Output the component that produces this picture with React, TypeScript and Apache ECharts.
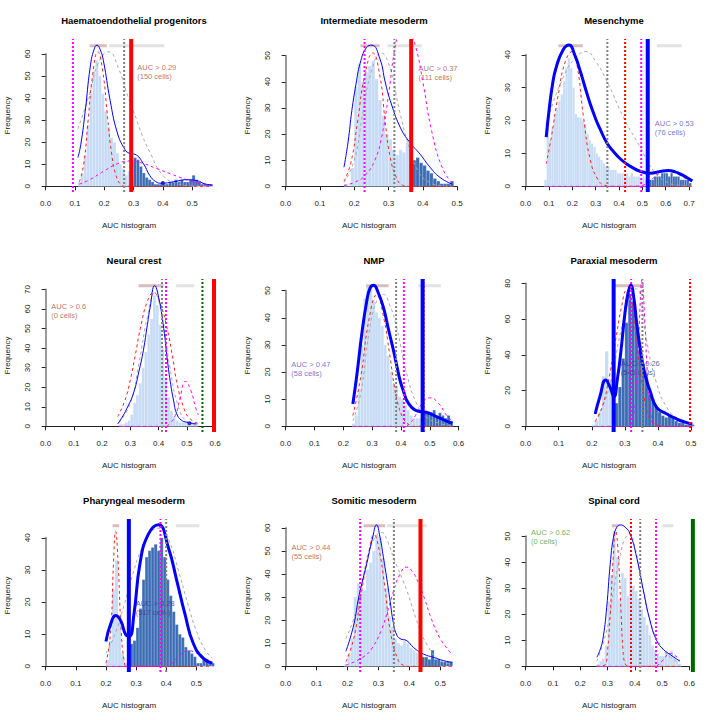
import { useEffect, useRef } from 'react';
import * as echarts from 'echarts';

// ---- panel-level values ----
const titles = [
  'Haematoendothelial progenitors', 'Intermediate mesoderm', 'Mesenchyme',
  'Neural crest', 'NMP', 'Paraxial mesoderm',
  'Pharyngeal mesoderm', 'Somitic mesoderm', 'Spinal cord',
];
const xMaxes = [0.569, 0.486, 0.714, 0.59, 0.578, 0.504, 0.553, 0.539, 0.611];
const yMaxes = [64.2, 54.2, 43.1, 72.5, 52.2, 79.3, 44.1, 61.4, 54.5];
const xLastTicks = [0.5, 0.5, 0.7, 0.6, 0.6, 0.5, 0.5, 0.5, 0.6];
const yLastTicks = [60, 50, 40, 70, 50, 80, 40, 60, 50];
const yTickSteps = [10, 10, 10, 10, 10, 20, 10, 10, 10];

const thresholdX = [0.292, 0.366, 0.523, 0.596, 0.475, 0.266, 0.276, 0.436, 0.613];
const thresholdColor = ['#ff0000', '#ff0000', '#0000ff', '#ff0000', '#0000ff', '#0000ff', '#0000ff', '#ff0000', '#006400'];
const densityWidth = [1, 1, 3, 1, 3, 3, 3, 1, 1];

const greyDotX = [0.268, 0.317, 0.35, 0.412, 0.383, 0.353, 0.4, 0.35, 0.42];
const redDotX = [null, null, 0.426, null, 0.478, 0.497, null, null, 0.386];
const magentaDotX = [0.093, 0.23, 0.495, 0.426, 0.41, 0.319, 0.381, 0.241, 0.478];
const greenDotX = [null, null, null, 0.555, null, null, null, null, null];

const rosyBars = [[0.15, 0.209], [0.218, 0.274], [0.14, 0.245], [0.329, 0.417], [0.279, 0.357], [0.269, 0.354], [0.222, 0.244], [0.252, 0.322], [0.316, 0.34]];
const greyBars = [[0.217, 0.405], [0.297, 0.397], [0.562, 0.669], [0.462, 0.526], [0.461, 0.538], null, [0.432, 0.51], [0.327, 0.456], [0.502, 0.542]];

const minDots = [[0.4, 1.5], null, null, [0.509, 1.6], null, null, null, null, null];

const labelTexts = [
  'AUC > 0.29\n(150 cells)', 'AUC > 0.37\n(111 cells)', 'AUC > 0.53\n(76 cells)',
  'AUC > 0.6\n(0 cells)', 'AUC > 0.47\n(58 cells)', 'AUC > 0.26\n(545 cells)',
  'AUC > 0.28\n(517 cells)', 'AUC > 0.44\n(55 cells)', 'AUC > 0.62\n(0 cells)',
];
const labelPos = [[0.311, 52], [0.386, 43.5], [0.551, 17.6], [0.018, 59], [0.018, 21.3], [0.286, 32.4], [0.297, 18.2], [0.017, 49.7], [0.018, 49.7]];
const labelColor = ['#a6503e', '#a6503e', '#5550c0', '#a6503e', '#5550c0', '#3c3690', '#3c3690', '#a6503e', '#4e9a34'];

// ---- histograms (bin width 0.01, first bin left edge) ----
const binWidth = 0.01;
const histStarts = [0.11, 0.17, 0.08, 0.26, 0.23, 0.2, 0.2, 0.19, 0.26];
const haemCounts = [2, 6, 14, 28, 42, 52, 57, 50, 42, 34, 27, 22, 20, 15, 10, 8, 5, 7, 11, 13, 12, 9, 6, 4, 3, 2, 1, 1, 1, 1, 1, 2, 2, 3, 2, 3, 2, 2, 3, 5, 3, 2, 1, 1, 1, 1];
const interCounts = [1, 0, 7, 38, 47, 40, 44, 46, 48, 41, 33, 27, 20, 18, 14, 12, 14, 13, 17, 14, 10, 11, 9, 8, 6, 5, 3, 2, 1, 1, 1, 2];
const mesenCounts = [2, 18, 14, 18, 22, 24, 26, 28, 32, 36, 39, 36, 30, 22, 21, 21, 20, 19, 16, 14, 13, 12, 10, 9, 8, 7, 6, 6, 5, 5, 5, 4, 4, 4, 3, 4, 3, 4, 3, 3, 3, 2, 3, 2, 2, 2, 2, 3, 3, 3, 4, 4, 4, 3, 4, 3, 3, 3, 2, 2, 2, 2, 1];
const neuralCounts = [1, 1, 2, 3, 6, 12, 16, 22, 30, 38, 47, 55, 67, 62, 52, 40, 25, 15, 8, 5, 3, 2, 2, 2, 2, 2, 2, 1];
const nmpCounts = [1, 4, 14, 30, 47, 52, 51, 46, 42, 40, 37, 30, 26, 20, 16, 15, 11, 10, 8, 6, 4, 3, 3, 3, 4, 5, 5, 5, 6, 4, 5, 4, 3, 4, 2];
const paraxCounts = [1, 3, 8, 28, 42, 26, 11, 13, 22, 38, 58, 74, 70, 58, 43, 35, 28, 18, 15, 11, 8, 6, 5, 6, 5, 3, 2, 2, 1, 1, 1];
const pharCounts = [2, 8, 24, 33, 14, 4, 1, 0, 7, 8, 12, 18, 27, 34, 36, 37, 38, 36, 40, 34, 27, 22, 17, 13, 10, 9, 6, 5, 4, 3, 1, 1, 2, 2, 1, 1];
const somitCounts = [1, 5, 12, 30, 36, 33, 33, 42, 45, 50, 57, 56, 47, 34, 22, 17, 12, 10, 9, 11, 10, 8, 7, 6, 5, 4, 4, 3, 7, 3, 3, 2, 2, 2, 2];
const spinalCounts = [1, 2, 3, 8, 25, 35, 52, 42, 26, 36, 34, 27, 38, 31, 29, 26, 22, 19, 16, 12, 8, 6, 5, 4, 4, 6, 5, 6, 4, 2, 1];

// ---- curves [AUC, frequency] ----
const haemDensity = [[0.11, 13], [0.12, 19], [0.135, 34], [0.152, 54], [0.165, 62], [0.175, 64], [0.186, 62], [0.197, 57], [0.22, 39], [0.243, 25], [0.266, 17.7], [0.285, 15], [0.305, 14.5], [0.334, 10.2], [0.355, 5], [0.375, 2.2], [0.395, 1.4], [0.437, 2.1], [0.482, 3], [0.516, 2.6], [0.544, 1.1], [0.569, 0.6]];
const haemRed = [[0.115, 2], [0.13, 10], [0.145, 30], [0.16, 50], [0.178, 61], [0.195, 52], [0.21, 33], [0.225, 15], [0.24, 5], [0.255, 1], [0.27, 0], [0.4, 0], [0.569, 0]];
const haemGrey = [[0.11, 26], [0.15, 42], [0.18, 56], [0.214, 61], [0.25, 53], [0.28, 41], [0.3, 34], [0.33, 23], [0.354, 16], [0.4, 5], [0.45, 1.2], [0.5, 0.2], [0.569, 0]];
const haemMagenta = [[0.115, 1], [0.15, 3], [0.2, 7], [0.25, 10.5], [0.29, 11.5], [0.33, 10.5], [0.38, 8], [0.43, 5.5], [0.48, 3], [0.52, 1.5], [0.569, 0.5]];

const interDensity = [[0.17, 7.3], [0.182, 17], [0.193, 29], [0.205, 39], [0.217, 47], [0.235, 53], [0.251, 54], [0.275, 48.7], [0.29, 40], [0.305, 32.8], [0.334, 22.6], [0.362, 16.8], [0.392, 12.3], [0.421, 7.3], [0.45, 3.4], [0.486, 0.8]];
const interRed = [[0.17, 2], [0.19, 9], [0.21, 25], [0.23, 42], [0.254, 51], [0.275, 42], [0.29, 25], [0.305, 11], [0.324, 3], [0.34, 0.5], [0.36, 0], [0.42, 0], [0.486, 0]];
const interGrey = [[0.17, 1.5], [0.2, 10], [0.225, 28], [0.25, 44], [0.278, 51], [0.305, 45], [0.33, 30], [0.36, 15], [0.39, 5], [0.42, 1.5], [0.45, 0.3], [0.486, 0]];
const interMagenta = [[0.17, 0.3], [0.2, 1.5], [0.23, 4], [0.26, 10], [0.28, 19], [0.3, 35], [0.315, 50], [0.33, 59], [0.345, 62], [0.36, 60], [0.38, 53], [0.4, 40], [0.426, 21], [0.457, 7], [0.486, 1.2]];

const mesenDensity = [[0.088, 15], [0.1, 23], [0.115, 31], [0.13, 36], [0.16, 41.5], [0.186, 43], [0.21, 40], [0.234, 35], [0.255, 30], [0.277, 25], [0.3, 20.5], [0.319, 17.4], [0.348, 13.2], [0.376, 10.6], [0.405, 8.4], [0.433, 6.8], [0.46, 5.6], [0.49, 4.6], [0.533, 4], [0.576, 4.5], [0.612, 4.8], [0.64, 4.4], [0.661, 3.8], [0.69, 2.7], [0.714, 1.6]];
const mesenRed = [[0.088, 6.8], [0.11, 15], [0.14, 28], [0.17, 38], [0.2, 41], [0.22, 37], [0.248, 21], [0.277, 8], [0.31, 2], [0.34, 0.3], [0.37, 0], [0.5, 0], [0.714, 0]];
const mesenGrey = [[0.088, 19], [0.12, 26], [0.16, 33], [0.2, 38], [0.259, 41], [0.3, 38], [0.348, 32], [0.419, 21], [0.49, 12], [0.547, 4.8], [0.605, 1.3], [0.66, 0.3], [0.714, 0]];
const mesenMagenta = [[0.088, 0], [0.3, 0], [0.45, 0], [0.5, 0.3], [0.53, 1.5], [0.56, 3.3], [0.6, 4.8], [0.63, 4.6], [0.66, 3.4], [0.69, 2.2], [0.714, 1.3]];

const neuralDensity = [[0.255, 1.2], [0.27, 4.5], [0.287, 9], [0.311, 17], [0.33, 28], [0.346, 39], [0.36, 52], [0.37, 61], [0.386, 72], [0.4, 66], [0.418, 50], [0.43, 35], [0.441, 23], [0.453, 13], [0.464, 6.4], [0.48, 3.2], [0.5, 2.1], [0.535, 1.2]];
const neuralRed = [[0.255, 5], [0.28, 13], [0.3, 24], [0.318, 37], [0.335, 50], [0.36, 64], [0.382, 68.5], [0.405, 63], [0.43, 50], [0.45, 35], [0.465, 22], [0.49, 9], [0.51, 4], [0.54, 1.5]];
const neuralGrey = [[0.26, 2], [0.3, 12], [0.33, 32], [0.36, 56], [0.385, 68], [0.41, 58], [0.44, 30], [0.47, 10], [0.5, 2.5], [0.54, 0.5]];
const neuralMagenta = [[0.26, 0], [0.35, 0], [0.42, 0], [0.44, 1.5], [0.46, 6], [0.475, 14], [0.495, 23], [0.515, 18], [0.53, 10], [0.54, 6]];

const nmpDensity = [[0.233, 8.2], [0.247, 19], [0.264, 34], [0.281, 46], [0.293, 51], [0.305, 52], [0.32, 49.5], [0.339, 43.8], [0.357, 35.5], [0.374, 27.9], [0.386, 22], [0.397, 16.8], [0.41, 12.5], [0.42, 9.5], [0.437, 7], [0.455, 5.7], [0.49, 5.1], [0.524, 3.5], [0.55, 2.3], [0.578, 1.1]];
const nmpRed = [[0.233, 4], [0.26, 18], [0.29, 40], [0.316, 48.5], [0.34, 40], [0.36, 27], [0.375, 16], [0.39, 8], [0.41, 2.5], [0.43, 0.5], [0.45, 0], [0.5, 0], [0.578, 0]];
const nmpGrey = [[0.233, 2], [0.26, 12], [0.29, 35], [0.315, 46], [0.339, 48.6], [0.36, 45], [0.385, 36.4], [0.42, 19.3], [0.455, 8.2], [0.49, 3.3], [0.536, 1], [0.578, 0.3]];
const nmpMagenta = [[0.233, 0], [0.33, 0], [0.41, 0], [0.43, 1], [0.45, 4], [0.47, 8], [0.5, 10.5], [0.53, 8.5], [0.555, 4.5], [0.578, 2]];

const paraxDensity = [[0.21, 6.9], [0.225, 17], [0.242, 26], [0.255, 22], [0.267, 16.6], [0.277, 26], [0.288, 42], [0.3, 63], [0.31, 75], [0.318, 79], [0.327, 72], [0.336, 57.3], [0.346, 44], [0.356, 33], [0.366, 25.5], [0.376, 19.9], [0.396, 10.6], [0.427, 6.9], [0.457, 4.1], [0.48, 2.5], [0.504, 1.3]];
const paraxRed = [[0.21, 2.5], [0.23, 10], [0.25, 25], [0.27, 46], [0.29, 67], [0.305, 76], [0.32, 70], [0.335, 48], [0.35, 26], [0.365, 10], [0.38, 3], [0.4, 0.5], [0.42, 0], [0.46, 0], [0.504, 0]];
const paraxGrey = [[0.21, 3], [0.25, 20], [0.29, 55], [0.32, 74], [0.335, 77], [0.35, 70], [0.366, 48], [0.396, 24], [0.427, 10.6], [0.467, 3], [0.504, 0.6]];
const paraxMagenta = [[0.21, 0], [0.26, 0], [0.31, 0], [0.325, 5], [0.335, 25], [0.343, 55], [0.352, 82], [0.36, 60], [0.368, 30], [0.378, 8], [0.39, 1], [0.4, 0], [0.45, 0], [0.504, 0]];

const pharDensity = [[0.2, 7.7], [0.215, 13], [0.233, 15.8], [0.25, 14], [0.265, 10], [0.278, 9.4], [0.293, 16.3], [0.313, 32], [0.34, 41], [0.374, 44.1], [0.407, 37], [0.435, 26.7], [0.462, 16.3], [0.49, 7.1], [0.524, 2.4], [0.553, 1]];
const pharRed = [[0.2, 1], [0.215, 10], [0.225, 32], [0.232, 42], [0.24, 33], [0.25, 12], [0.26, 2], [0.27, 0], [0.4, 0], [0.553, 0]];
const pharGrey = [[0.2, 4], [0.23, 10], [0.26, 19], [0.29, 29], [0.32, 37], [0.35, 42], [0.38, 43], [0.41, 39], [0.44, 30], [0.47, 20], [0.5, 11], [0.53, 5], [0.553, 2.5]];
const pharMagenta = [[0.2, 0], [0.3, 0], [0.4, 0], [0.42, 1], [0.44, 3], [0.475, 4.8], [0.5, 4.2], [0.525, 2.8], [0.553, 1.2]];

const somitDensity = [[0.195, 6.5], [0.22, 17.9], [0.237, 30.4], [0.262, 44.4], [0.28, 55], [0.294, 61.3], [0.305, 56], [0.316, 47.3], [0.327, 38], [0.338, 28], [0.348, 19], [0.358, 14], [0.37, 12], [0.392, 11.1], [0.413, 8.2], [0.446, 5.3], [0.478, 3.9], [0.51, 2.5], [0.539, 1.7]];
const somitRed = [[0.195, 2], [0.22, 12], [0.245, 32], [0.27, 50], [0.286, 57], [0.3, 52], [0.32, 35], [0.338, 15.5], [0.36, 4], [0.38, 0.5], [0.4, 0], [0.47, 0], [0.539, 0]];
const somitGrey = [[0.195, 12], [0.23, 25], [0.26, 45], [0.285, 55], [0.311, 58], [0.33, 54], [0.349, 47], [0.392, 32.8], [0.424, 19.8], [0.456, 9.7], [0.499, 2.5], [0.539, 1]];
const somitMagenta = [[0.195, 0.5], [0.25, 4], [0.28, 8], [0.31, 16], [0.33, 24], [0.35, 33], [0.37, 40], [0.39, 43], [0.41, 41], [0.43, 36], [0.45, 29], [0.47, 21], [0.5, 12], [0.539, 5]];

const spinalDensity = [[0.261, 3.5], [0.275, 7], [0.285, 11.7], [0.297, 22.6], [0.31, 39.4], [0.322, 49.7], [0.334, 53.5], [0.346, 54.4], [0.365, 53.5], [0.383, 50.9], [0.407, 41.9], [0.432, 29], [0.456, 17.5], [0.481, 9.8], [0.505, 6.5], [0.53, 4.5], [0.565, 2]];
const spinalRed = [[0.261, 0], [0.29, 0.5], [0.3, 6], [0.31, 20], [0.32, 40], [0.33, 52], [0.34, 42], [0.35, 20], [0.357, 6], [0.365, 1], [0.38, 0], [0.47, 0], [0.565, 0]];
const spinalGrey = [[0.261, 2], [0.3, 15], [0.322, 29], [0.345, 42], [0.36, 48], [0.38, 51], [0.4, 46], [0.42, 35], [0.456, 17.5], [0.492, 8.5], [0.53, 3.5], [0.565, 1.5]];
const spinalMagenta = [[0.261, 0], [0.37, 0], [0.47, 0], [0.5, 2], [0.53, 5], [0.55, 4], [0.565, 2]];

const histCounts = [haemCounts, interCounts, mesenCounts, neuralCounts, nmpCounts, paraxCounts, pharCounts, somitCounts, spinalCounts];
const densities = [haemDensity, interDensity, mesenDensity, neuralDensity, nmpDensity, paraxDensity, pharDensity, somitDensity, spinalDensity];
const redFits = [haemRed, interRed, mesenRed, neuralRed, nmpRed, paraxRed, pharRed, somitRed, spinalRed];
const greyFits = [haemGrey, interGrey, mesenGrey, neuralGrey, nmpGrey, paraxGrey, pharGrey, somitGrey, spinalGrey];
const magentaFits = [haemMagenta, interMagenta, mesenMagenta, neuralMagenta, nmpMagenta, paraxMagenta, pharMagenta, somitMagenta, spinalMagenta];

// plot region inside each 240x240 panel (R's mfrow layout)
const PANEL = 240;
const PL = 39;
const PT = 39;
const PW = 180;
const PH = 153;
const FONT = '"Liberation Sans", Arial, Helvetica, sans-serif';
const LIGHT = '#c6dbf5';
const DARK = '#3b6db5';

function buildOption() {
  const grid: any[] = [];
  const xAxis: any[] = [];
  const yAxis: any[] = [];
  const series: any[] = [];
  const title: any[] = [];

  titles.forEach((name, i) => {
    const ox = (i % 3) * PANEL;
    const oy = Math.floor(i / 3) * PANEL;
    const left = ox + PL;
    const top = oy + PT;
    const xMax = xMaxes[i];
    const yMax = yMaxes[i];
    const x0 = -0.04 * xMax;
    const x1 = 1.04 * xMax;
    const y0 = -0.04 * yMax;
    const y1 = 1.04 * yMax;
    const xPx = PW / (x1 - x0);
    const yPx = PH / (y1 - y0);
    const gA = 2 * i;
    const gB = 2 * i + 1;

    title.push({
      text: name,
      left: left + PW / 2,
      top: oy + 10,
      textAlign: 'center',
      textStyle: { fontSize: 9.5, fontWeight: 'bold', color: '#000', fontFamily: FONT },
    });

    // grid A: full plot region (usr), holds the data
    grid.push({ left, top, width: PW, height: PH });
    // grid B: axis lines from 0 to last tick, like R's axis()
    const zeroX = left + (0 - x0) * xPx;
    const zeroY = top + PH - (0 - y0) * yPx;
    const bHeight = yLastTicks[i] * yPx;
    grid.push({ left: zeroX, top: zeroY - bHeight, width: xLastTicks[i] * xPx, height: bHeight });

    const hidden = { axisLine: { show: false }, axisTick: { show: false }, axisLabel: { show: false }, splitLine: { show: false } };
    xAxis.push({
      gridIndex: gA, type: 'value', min: x0, max: x1, ...hidden,
      name: 'AUC histogram', nameLocation: 'middle', nameGap: 29,
      nameTextStyle: { fontSize: 8, color: '#222', fontFamily: FONT },
    });
    yAxis.push({
      gridIndex: gA, type: 'value', min: y0, max: y1, ...hidden,
      name: 'Frequency', nameLocation: 'middle', nameGap: 28,
      nameTextStyle: { fontSize: 8, color: '#222', fontFamily: FONT },
    });
    xAxis.push({
      gridIndex: gB, type: 'value', min: 0, max: xLastTicks[i], interval: 0.1,
      offset: (0 - y0) * yPx,
      axisLine: { lineStyle: { color: '#222', width: 1 } },
      axisTick: { length: 4, lineStyle: { color: '#222' } },
      axisLabel: { fontSize: 8, color: '#222', margin: 7, fontFamily: FONT, formatter: (v: number) => v.toFixed(1) },
      splitLine: { show: false },
    });
    yAxis.push({
      gridIndex: gB, type: 'value', min: 0, max: yLastTicks[i], interval: yTickSteps[i],
      offset: (0 - x0) * xPx,
      axisLine: { lineStyle: { color: '#9a9a9a', width: 2 } },
      axisTick: { length: 4, lineStyle: { color: '#222' } },
      axisLabel: { fontSize: 8, color: '#222', margin: 8, rotate: 90, fontFamily: FONT },
      splitLine: { show: false },
    });

    const thr = thresholdX[i];
    const bins = histCounts[i].map((c, k) => {
      const a = histStarts[i] + k * binWidth;
      return [a, a + binWidth, c, a + binWidth / 2 > thr ? 1 : 0];
    });
    series.push({
      type: 'custom', xAxisIndex: gA, yAxisIndex: gA, data: bins,
      encode: { x: [0, 1], y: 2 },
      renderItem: (_p: any, api: any) => {
        const a = api.coord([api.value(0), 0]);
        const b = api.coord([api.value(1), api.value(2)]);
        return {
          type: 'rect',
          shape: { x: a[0], y: b[1], width: b[0] - a[0], height: a[1] - b[1] },
          style: { fill: api.value(3) ? DARK : LIGHT, stroke: 'rgba(255,255,255,0.45)', lineWidth: 0.4 },
        };
      },
    });

    const yTop = y1 - 6.7 / yPx;
    const hBar = (range: number[] | null, color: string) => {
      if (!range) return;
      series.push({
        type: 'line', xAxisIndex: gA, yAxisIndex: gA, showSymbol: false, silent: true,
        data: [[range[0], yTop], [range[1], yTop]],
        lineStyle: { color, width: 3 },
      });
    };
    hBar(rosyBars[i], '#d9bcbc');
    hBar(greyBars[i], '#e2e2e2');

    const curve = (data: number[][], color: string, width: number, type: any) => {
      series.push({
        type: 'line', xAxisIndex: gA, yAxisIndex: gA, data, showSymbol: false, silent: true,
        smooth: 0.5,
        lineStyle: { color, width, type },
      });
    };
    curve(greyFits[i], '#a8a8a8', 1, [3, 3]);
    curve(redFits[i], '#ff2020', 1, [3, 3]);
    curve(magentaFits[i], '#ff00ff', 1, [3, 3]);
    curve(densities[i], '#0000ff', densityWidth[i], 'solid');

    const vLine = (x: number | null, color: string, width: number, type: any) => {
      if (x == null) return;
      series.push({
        type: 'line', xAxisIndex: gA, yAxisIndex: gA, showSymbol: false, silent: true,
        data: [[x, y0], [x, y1]],
        lineStyle: { color, width, type },
      });
    };
    vLine(greyDotX[i], '#808080', 2, [2, 2]);
    vLine(redDotX[i], '#ff0000', 2, [2, 2]);
    vLine(magentaDotX[i], '#ff00ff', 2, [2, 2]);
    vLine(greenDotX[i], '#006400', 2, [2, 2]);
    vLine(thr, thresholdColor[i], 4, 'solid');

    if (minDots[i]) {
      series.push({
        type: 'scatter', xAxisIndex: gA, yAxisIndex: gA, data: [minDots[i]],
        symbolSize: 4, itemStyle: { color: '#000080' },
      });
    }

    series.push({
      type: 'scatter', xAxisIndex: gA, yAxisIndex: gA, data: [labelPos[i]],
      symbolSize: 1, itemStyle: { color: 'rgba(0,0,0,0)' },
      label: {
        show: true, position: 'right', distance: 0,
        formatter: labelTexts[i], color: labelColor[i],
        fontSize: 7.5, lineHeight: 9, fontFamily: FONT, align: 'left',
      },
    });
  });

  return {
    animation: false,
    backgroundColor: '#ffffff',
    textStyle: { fontFamily: FONT },
    title, grid, xAxis, yAxis, series,
  };
}

export default function App() {
  const chartRef = useRef<HTMLDivElement>(null);

  useEffect(() => {
    document.body.style.margin = '0';
    if (!chartRef.current) return;
    const chart = echarts.init(chartRef.current, undefined, { renderer: 'svg' });
    chart.setOption(buildOption());
    return () => {
      chart.dispose();
    };
  }, []);

  return <div ref={chartRef} style={{ width: 720, height: 720 }} />;
}
